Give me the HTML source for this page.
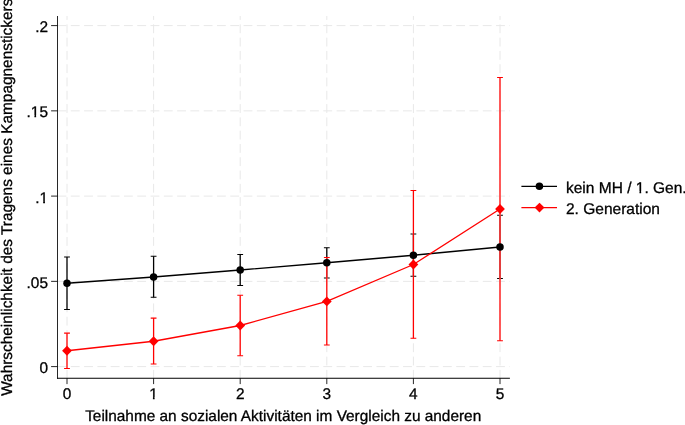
<!DOCTYPE html>
<html lang="de"><head><meta charset="utf-8"><title>Marginsplot</title>
<style>
html,body{margin:0;padding:0;background:#fff;}
svg{display:block}
text{font-family:"Liberation Sans",Arial,Helvetica,sans-serif;font-size:15.4px;fill:#000;stroke:#000;stroke-width:0.3px;text-rendering:geometricPrecision}
</style></head><body>
<svg width="685" height="425" viewBox="0 0 685 425">
<rect width="685" height="425" fill="#fff"/>
<g stroke="#e8e8e8" stroke-width="1" stroke-dasharray="8.86 4.43" fill="none">
<line x1="57.5" y1="366.60" x2="509.9" y2="366.60"/>
<line x1="57.5" y1="281.35" x2="509.9" y2="281.35"/>
<line x1="57.5" y1="196.10" x2="509.9" y2="196.10"/>
<line x1="57.5" y1="110.85" x2="509.9" y2="110.85"/>
<line x1="57.5" y1="25.60" x2="509.9" y2="25.60"/>
<line x1="67.00" y1="378.75" x2="67.00" y2="16.0"/>
<line x1="153.60" y1="378.75" x2="153.60" y2="16.0"/>
<line x1="240.20" y1="378.75" x2="240.20" y2="16.0"/>
<line x1="326.80" y1="378.75" x2="326.80" y2="16.0"/>
<line x1="413.40" y1="378.75" x2="413.40" y2="16.0"/>
<line x1="500.00" y1="378.75" x2="500.00" y2="16.0"/>
</g>
<g stroke="#000" stroke-width="1.3" fill="none">
<path d="M67.00 257.0 V309.45"/><path stroke-width="1.1" d="M64.10 257.0 H69.90 M64.10 309.45 H69.90"/>
<path d="M153.60 256.25 V297.25"/><path stroke-width="1.1" d="M150.70 256.25 H156.50 M150.70 297.25 H156.50"/>
<path d="M240.20 254.5 V285.5"/><path stroke-width="1.1" d="M237.30 254.5 H243.10 M237.30 285.5 H243.10"/>
<path d="M326.80 247.75 V278.0"/><path stroke-width="1.1" d="M323.90 247.75 H329.70 M323.90 278.0 H329.70"/>
<path d="M413.40 234.0 V276.25"/><path stroke-width="1.1" d="M410.50 234.0 H416.30 M410.50 276.25 H416.30"/>
<path d="M500.00 215.25 V278.5"/><path stroke-width="1.1" d="M497.10 215.25 H502.90 M497.10 278.5 H502.90"/>
</g>
<g opacity="0.8" stroke="#fff" stroke-width="1.3" fill="none">
<path d="M67.00 333.15 V368.5"/><path stroke-width="1.1" d="M64.10 333.15 H69.90 M64.10 368.5 H69.90"/>
<path d="M153.60 318.1 V364.0"/><path stroke-width="1.1" d="M150.70 318.1 H156.50 M150.70 364.0 H156.50"/>
<path d="M240.20 295.25 V355.75"/><path stroke-width="1.1" d="M237.30 295.25 H243.10 M237.30 355.75 H243.10"/>
<path d="M326.80 257.5 V345.0"/><path stroke-width="1.1" d="M323.90 257.5 H329.70 M323.90 345.0 H329.70"/>
<path d="M413.40 190.5 V338.25"/><path stroke-width="1.1" d="M410.50 190.5 H416.30 M410.50 338.25 H416.30"/>
<path d="M500.00 77.5 V340.75"/><path stroke-width="1.1" d="M497.10 77.5 H502.90 M497.10 340.75 H502.90"/>
</g>
<g stroke="#f00" stroke-width="1.3" fill="none">
<path d="M67.00 333.15 V368.5"/><path stroke-width="1.1" d="M64.10 333.15 H69.90 M64.10 368.5 H69.90"/>
<path d="M153.60 318.1 V364.0"/><path stroke-width="1.1" d="M150.70 318.1 H156.50 M150.70 364.0 H156.50"/>
<path d="M240.20 295.25 V355.75"/><path stroke-width="1.1" d="M237.30 295.25 H243.10 M237.30 355.75 H243.10"/>
<path d="M326.80 257.5 V345.0"/><path stroke-width="1.1" d="M323.90 257.5 H329.70 M323.90 345.0 H329.70"/>
<path d="M413.40 190.5 V338.25"/><path stroke-width="1.1" d="M410.50 190.5 H416.30 M410.50 338.25 H416.30"/>
<path d="M500.00 77.5 V340.75"/><path stroke-width="1.1" d="M497.10 77.5 H502.90 M497.10 340.75 H502.90"/>
</g>
<polyline points="67.00,283.25 153.60,277.0 240.20,270.0 326.80,262.75 413.40,255.25 500.00,247.0" fill="none" stroke="#000" stroke-width="1.3"/>
<circle cx="67.00" cy="283.25" r="3.75" fill="#000"/>
<circle cx="153.60" cy="277.0" r="3.75" fill="#000"/>
<circle cx="240.20" cy="270.0" r="3.75" fill="#000"/>
<circle cx="326.80" cy="262.75" r="3.75" fill="#000"/>
<circle cx="413.40" cy="255.25" r="3.75" fill="#000"/>
<circle cx="500.00" cy="247.0" r="3.75" fill="#000"/>
<polyline points="67.00,350.75 153.60,341.25 240.20,325.5 326.80,301.4 413.40,264.5 500.00,209.0" fill="none" stroke="#f00" stroke-width="1.3"/>
<path d="M67.00 345.85 L71.90 350.75 L67.00 355.65 L62.10 350.75 Z" fill="#f00"/>
<path d="M153.60 336.35 L158.50 341.25 L153.60 346.15 L148.70 341.25 Z" fill="#f00"/>
<path d="M240.20 320.6 L245.10 325.5 L240.20 330.4 L235.30 325.5 Z" fill="#f00"/>
<path d="M326.80 296.5 L331.70 301.4 L326.80 306.29999999999995 L321.90 301.4 Z" fill="#f00"/>
<path d="M413.40 259.6 L418.30 264.5 L413.40 269.4 L408.50 264.5 Z" fill="#f00"/>
<path d="M500.00 204.1 L504.90 209.0 L500.00 213.9 L495.10 209.0 Z" fill="#f00"/>
<g stroke="#000" stroke-width="0.85" fill="none">
<path d="M57.5 16.0 V378.8"/>
<path d="M57.1 378.25 H509.9" stroke-width="1"/>
<path d="M57.5 366.60 h-6.4"/>
<path d="M57.5 281.35 h-6.4"/>
<path d="M57.5 196.10 h-6.4"/>
<path d="M57.5 110.85 h-6.4"/>
<path d="M57.5 25.60 h-6.4"/>
<path d="M67.00 378.3 v5.8"/>
<path d="M153.60 378.3 v5.8"/>
<path d="M240.20 378.3 v5.8"/>
<path d="M326.80 378.3 v5.8"/>
<path d="M413.40 378.3 v5.8"/>
<path d="M500.00 378.3 v5.8"/>
</g>
<text x="48" y="373" text-anchor="end">0</text>
<text x="48" y="288" text-anchor="end">.05</text>
<text x="48" y="203" text-anchor="end">.1</text>
<text x="48" y="117" text-anchor="end">.15</text>
<text x="48" y="32" text-anchor="end">.2</text>
<text x="67.00" y="399" text-anchor="middle">0</text>
<text x="153.60" y="399" text-anchor="middle">1</text>
<text x="240.20" y="399" text-anchor="middle">2</text>
<text x="326.80" y="399" text-anchor="middle">3</text>
<text x="413.40" y="399" text-anchor="middle">4</text>
<text x="500.00" y="399" text-anchor="middle">5</text>
<text x="283.2" y="421" text-anchor="middle">Teilnahme an sozialen Aktivitäten im Vergleich zu anderen</text>
<text transform="translate(12 197.25) rotate(-90)" text-anchor="middle">Wahrscheinlichkeit des Tragens eines Kampagnenstickers</text>
<path d="M521.4 186.3 H557" stroke="#000" stroke-width="1.3"/><circle cx="539.4" cy="186.3" r="3.75" fill="#000"/>
<path d="M521.4 207.6 H557" stroke="#f00" stroke-width="1.3"/><path d="M539.5 202.7 L544.4 207.6 L539.5 212.5 L534.6 207.6 Z" fill="#f00"/>
<text x="566" y="193" style="font-size:15.5px">kein MH / 1. Gen.</text>
<text x="566" y="214" style="font-size:15.5px">2. Generation</text>
<g fill="#fff">
<rect x="40.0" y="201.0" width="3.14" height="3.0"/><rect x="44.96" y="201.0" width="3.04" height="3.0"/>
<rect x="31.0" y="115.0" width="3.40" height="3.0"/><rect x="36.13" y="115.0" width="3.22" height="3.0"/>
<rect x="149.5" y="397.0" width="3.40" height="3.0"/><rect x="154.63" y="397.0" width="3.37" height="3.0"/>
<rect x="636.0" y="191.0" width="3.45" height="3.0"/><rect x="641.18" y="191.0" width="3.52" height="3.0"/>
</g>
</svg></body></html>
